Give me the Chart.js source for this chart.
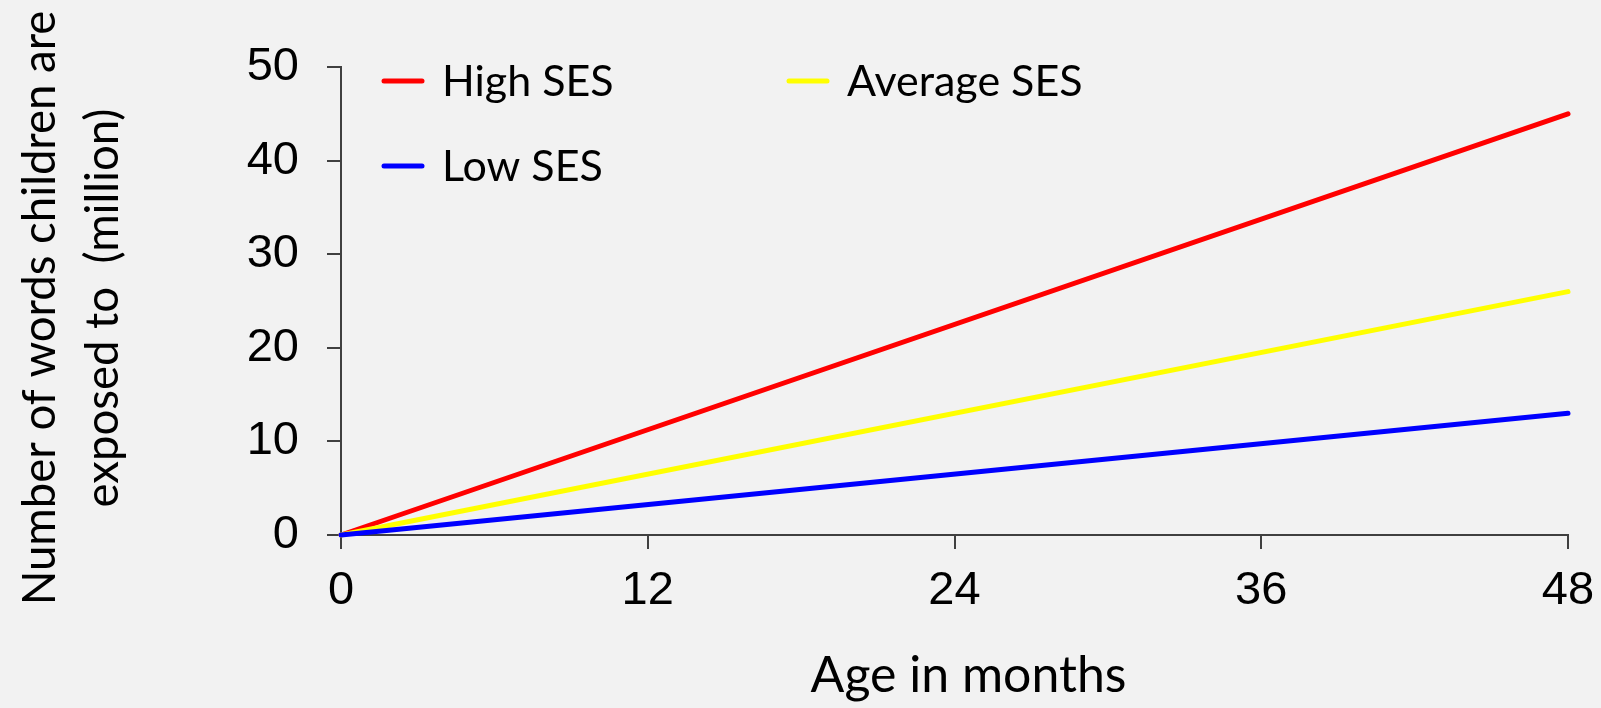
<!DOCTYPE html>
<html>
<head>
<meta charset="utf-8">
<style>
  html, body { margin: 0; padding: 0; background: #f2f2f2; }
  #wrap { width: 1601px; height: 708px; position: relative; }
</style>
<script src="https://cdn.jsdelivr.net/npm/chart.js@4.4.0/dist/chart.umd.min.js"></script>
</head>
<body>
<div id="wrap"><canvas id="chart" width="1601" height="708"></canvas></div>
<script>
// Age in months at the start and end of each line
const ageMonths = [0, 48];

// Cumulative words heard (millions)
const highSES = [0, 45];
const averageSES = [0, 26];
const lowSES = [0, 13];

const seriesNames = ['High SES', 'Average SES', 'Low SES'];
const seriesColors = ['#ff0000', '#ffff00', '#0000ff'];

const xTicks = [0, 12, 24, 36, 48];
const yTicks = [0, 10, 20, 30, 40, 50];

const xTitle = 'Age in months';
const yTitle = ['Number of words children are', 'exposed to  (million)'];

const TEXT_FONT = 'Lato, "Open Sans", sans-serif';
const TICK_FONT = '"Liberation Sans", Arial, sans-serif';
const AXIS_COLOR = '#404040';

function toPoints(values) {
  return values.map((v, i) => ({ x: ageMonths[i], y: v }));
}

// Paints the page colour behind the chart
const backdrop = {
  id: 'backdrop',
  beforeDraw(chart) {
    const { ctx, width, height } = chart;
    ctx.save();
    ctx.fillStyle = '#f2f2f2';
    ctx.fillRect(0, 0, width, height);
    ctx.restore();
  }
};

// Two-column key in the upper left of the plot, plus both axis captions
const keyBox = {
  id: 'keyBox',
  afterDraw(chart, args, opts) {
    const { ctx, chartArea } = chart;
    ctx.save();
    ctx.font = `${opts.fontSize}px ${TEXT_FONT}`;
    ctx.textBaseline = 'middle';
    ctx.textAlign = 'left';
    chart.data.datasets.forEach((ds, i) => {
      const col = i % 2;
      const row = Math.floor(i / 2);
      const x = opts.columns[col];
      const y = opts.rows[row];
      ctx.strokeStyle = ds.borderColor;
      ctx.lineWidth = 5;
      ctx.lineCap = 'round';
      ctx.beginPath();
      ctx.moveTo(x, y);
      ctx.lineTo(x + opts.swatch, y);
      ctx.stroke();
      ctx.fillStyle = '#000000';
      ctx.fillText(ds.label, x + opts.textGap, y + 1);
    });

    // horizontal axis caption
    ctx.font = `${opts.captionSize}px ${TEXT_FONT}`;
    ctx.textAlign = 'center';
    ctx.fillStyle = '#000000';
    const cx = (chartArea.left + chartArea.right) / 2 + opts.captionShift;
    ctx.fillText(xTitle, cx, opts.captionY);

    // vertical axis caption, two lines read bottom to top
    ctx.font = `${opts.yCaptionSize}px ${TEXT_FONT}`;
    const cy = (chartArea.top + chartArea.bottom) / 2 + opts.yCaptionShift;
    yTitle.forEach((line, i) => {
      ctx.save();
      ctx.translate(opts.yCaptionX[i], cy);
      ctx.rotate(-Math.PI / 2);
      ctx.fillText(line, 0, 0);
      ctx.restore();
    });
    ctx.restore();
  }
};

const seriesValues = [highSES, averageSES, lowSES];

new Chart(document.getElementById('chart'), {
  type: 'line',
  data: {
    datasets: seriesNames.map((name, i) => ({
      label: name,
      data: toPoints(seriesValues[i]),
      borderColor: seriesColors[i],
      backgroundColor: seriesColors[i],
      borderWidth: 5,
      borderCapStyle: 'round',
      pointRadius: 0,
      tension: 0,
      clip: false,
      order: seriesNames.length - i
    }))
  },
  options: {
    responsive: false,
    animation: false,
    devicePixelRatio: 1,
    layout: { padding: { left: 0, right: 33, top: 67, bottom: 0 } },
    plugins: {
      legend: { display: false },
      tooltip: { enabled: false },
      keyBox: { fontSize: 43, columns: [384, 789], rows: [81, 166], swatch: 38, textGap: 58,
                captionSize: 50, captionShift: 14, captionY: 676,
                yCaptionSize: 45.5, yCaptionShift: 7, yCaptionX: [40, 103] }
    },
    scales: {
      x: {
        type: 'linear',
        min: xTicks[0],
        max: xTicks[xTicks.length - 1],
        afterBuildTicks(scale) { scale.ticks = xTicks.map(v => ({ value: v })); },
        afterFit(scale) { scale.height = 173; scale.paddingRight = 0; scale.paddingLeft = 0; },
        border: { display: true, color: AXIS_COLOR, width: 2 },
        grid: { display: true, drawOnChartArea: false, drawTicks: true, tickLength: 14, color: AXIS_COLOR, lineWidth: 2 },
        ticks: { color: '#000000', font: { family: TICK_FONT, size: 47 }, padding: 14, maxRotation: 0 },
        title: { display: false }
      },
      y: {
        type: 'linear',
        min: yTicks[0],
        max: yTicks[yTicks.length - 1],
        afterBuildTicks(scale) { scale.ticks = yTicks.map(v => ({ value: v })); },
        afterFit(scale) { scale.width = 341; },
        border: { display: true, color: AXIS_COLOR, width: 2 },
        grid: { display: true, drawOnChartArea: false, drawTicks: true, tickLength: 14, color: AXIS_COLOR, lineWidth: 2 },
        ticks: { color: '#000000', font: { family: TICK_FONT, size: 47 }, padding: 28 },
        title: { display: false }
      }
    }
  },
  plugins: [backdrop, keyBox]
});
</script>
</body>
</html>
